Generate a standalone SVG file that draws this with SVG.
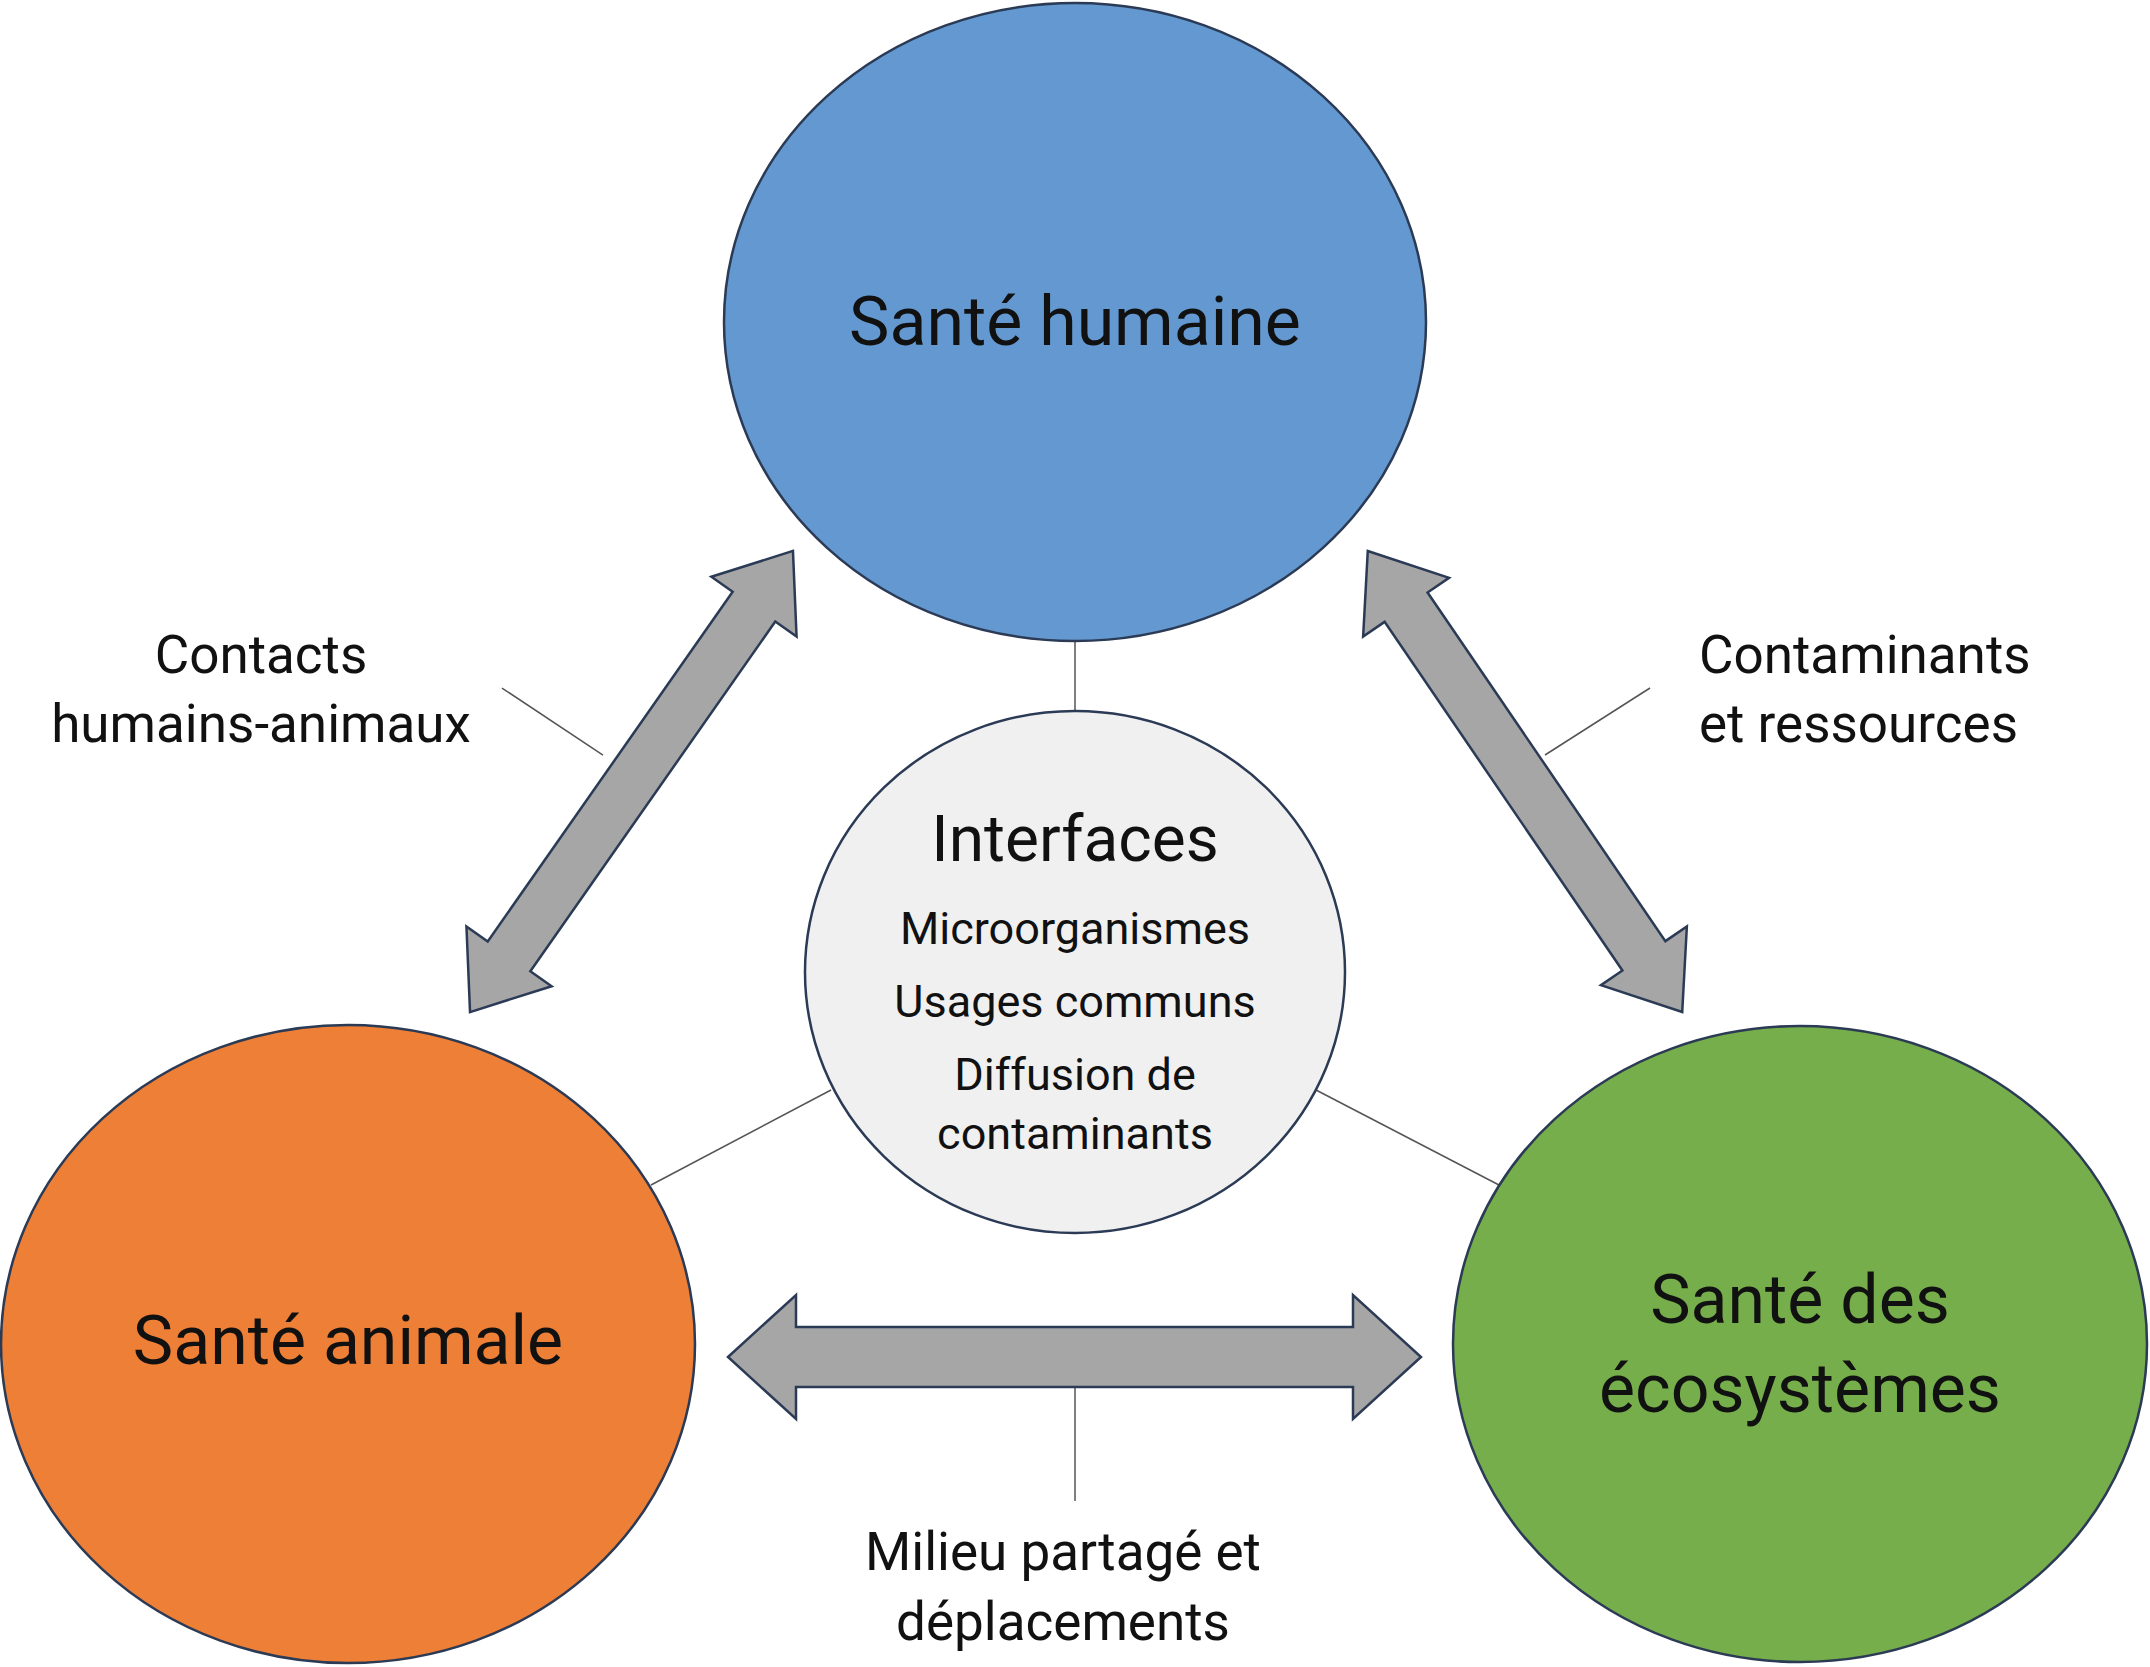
<svg xmlns="http://www.w3.org/2000/svg" width="2150" height="1667" viewBox="0 0 2150 1667">
<style>
.n{stroke:#2b3a55;stroke-width:2.5}
.t{font-family:Roboto,"Liberation Sans",sans-serif;fill:#111;text-anchor:middle;dominant-baseline:central}
.l{stroke:#555;stroke-width:1.5}
.a{fill:#a6a6a6;stroke:#2b3a55;stroke-width:2.5;stroke-linejoin:miter}
</style>
<rect width="2150" height="1667" fill="#fff"/>
<g id="connectors">
<line class="l" x1="1075" y1="640" x2="1075" y2="712"/>
<line class="l" x1="651" y1="1185" x2="831" y2="1090"/>
<line class="l" x1="1316" y1="1090" x2="1499" y2="1185"/>
<line class="l" x1="1075" y1="1388" x2="1075" y2="1501"/>
<line class="l" x1="502" y1="688" x2="603" y2="755"/>
<line class="l" x1="1650" y1="688" x2="1545" y2="755"/>
<polygon class="a" transform="translate(1074.5,1357)" points="-346.5,0 -278.5,-62 -278.5,-30 278.5,-30 278.5,-62 346.5,0 278.5,62 278.5,30 -278.5,30 -278.5,62"/>
<polygon class="a" transform="translate(631.5,781.5) rotate(-55)" points="-281.5,0 -213.5,-52 -213.5,-26 213.5,-26 213.5,-52 281.5,0 213.5,52 213.5,26 -213.5,26 -213.5,52"/>
<polygon class="a" transform="translate(1525,781.5) rotate(55.7)" points="-279,0 -211,-52 -211,-26 211,-26 211,-52 279,0 211,52 211,26 -211,26 -211,52"/>
</g>
<g id="human"><ellipse class="n" cx="1075" cy="322" rx="351" ry="319" fill="#6399d0"/><text class="t" x="1075" y="322" font-size="68">Santé humaine</text></g>
<g id="animal"><ellipse class="n" cx="348" cy="1344" rx="347" ry="319" fill="#ee7f36"/><text class="t" x="348" y="1341" font-size="68">Santé animale</text></g>
<g id="eco"><ellipse class="n" cx="1800" cy="1344" rx="347" ry="318" fill="#76ae4b"/><text class="t" x="1800" y="1300" font-size="68">Santé des</text><text class="t" x="1800" y="1389" font-size="68">écosystèmes</text></g>
<g id="interfaces"><ellipse class="n" cx="1075" cy="972" rx="270" ry="261" fill="#f0f0f0"/>
<text class="t" x="1075" y="839" font-size="64">Interfaces</text>
<text class="t" x="1075" y="928" font-size="45">Microorganismes</text>
<text class="t" x="1075" y="1001" font-size="45">Usages communs</text>
<text class="t" x="1075" y="1074" font-size="45">Diffusion de</text>
<text class="t" x="1075" y="1133" font-size="45">contaminants</text></g>
<g id="labels">
<text class="t" x="261" y="655" font-size="53">Contacts</text>
<text class="t" x="261" y="724" font-size="53">humains-animaux</text>
<text class="t" x="1699" y="655" font-size="53" style="text-anchor:start">Contaminants</text>
<text class="t" x="1699" y="724" font-size="53" style="text-anchor:start">et ressources</text>
<text class="t" x="1063" y="1552" font-size="53">Milieu partagé et</text>
<text class="t" x="1063" y="1622" font-size="53">déplacements</text>
</g>
</svg>
